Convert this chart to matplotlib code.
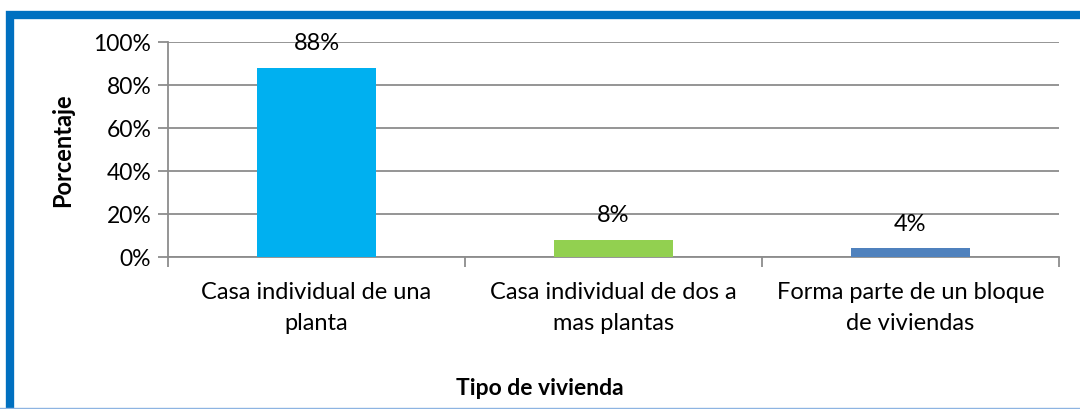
import matplotlib.pyplot as plt
from matplotlib.patches import Rectangle
from matplotlib.ticker import FuncFormatter, FixedLocator
import numpy as np

categories = [
    "Casa individual de una\nplanta",
    "Casa individual de dos a\nmas plantas",
    "Forma parte de un bloque\nde viviendas",
]
values = [88, 8, 4]
bar_colors = ["#00B0F0", "#92D050", "#4F81BD"]

plt.rcParams["font.family"] = ["Lato", "DejaVu Sans"]

fig = plt.figure(figsize=(10.8, 4.1), dpi=100)
ax = fig.add_axes([168 / 1080, 1 - 258 / 410, (1059 - 168) / 1080, (258 - 43) / 410])

x = np.arange(len(categories))
ax.bar(x, values, width=0.404, color=bar_colors, zorder=3)
for xi, v in zip(x, values):
    ax.annotate(f"{v}%", (xi, v), xytext=(0, 18), textcoords="offset points",
                ha="center", va="center", fontsize=17, color="#000000", zorder=4)

ax.set_xlim(-0.5, 2.5)
ax.set_ylim(0, 100)
ax.set_yticks(np.arange(0, 101, 20))
ax.yaxis.set_major_formatter(FuncFormatter(lambda v, _: f"{v:.0f}%"))
ax.grid(axis="y", color="#8C8C8C", linewidth=1.3, zorder=1)

ax.set_xticks(x)
ax.set_xticklabels(categories, fontsize=17, linespacing=1.6)
ax.tick_params(axis="x", which="major", length=0, pad=17)
ax.xaxis.set_minor_locator(FixedLocator([-0.5, 0.5, 1.5, 2.5]))
ax.tick_params(axis="x", which="minor", length=7, color="#8C8C8C", width=1.3)
ax.tick_params(axis="y", length=7, color="#8C8C8C", width=1.3, labelsize=16.5, pad=5)

for side in ("top", "right"):
    ax.spines[side].set_visible(False)
for side in ("left", "bottom"):
    ax.spines[side].set_color("#8C8C8C")
    ax.spines[side].set_linewidth(1.3)

ax.set_ylabel("Porcentaje", fontsize=17, fontweight="bold", labelpad=14)
fig.text(540 / 1080, 1 - 389 / 410, "Tipo de vivienda", ha="center", va="center",
         fontsize=16.5, fontweight="bold")

# outer blue frame (chart area border)
fig.patches.append(Rectangle((10 / 1080, -0.2), 1.2, 1 - 15.5 / 410 + 0.2,
                             transform=fig.transFigure, fill=False,
                             edgecolor="#0070C0", linewidth=6, zorder=0))
fig.add_artist(plt.Line2D([0, 1], [0.6 / 410, 0.6 / 410], transform=fig.transFigure,
                          color="#8DB4E2", linewidth=1))

fig.savefig("out.png", dpi=100)
